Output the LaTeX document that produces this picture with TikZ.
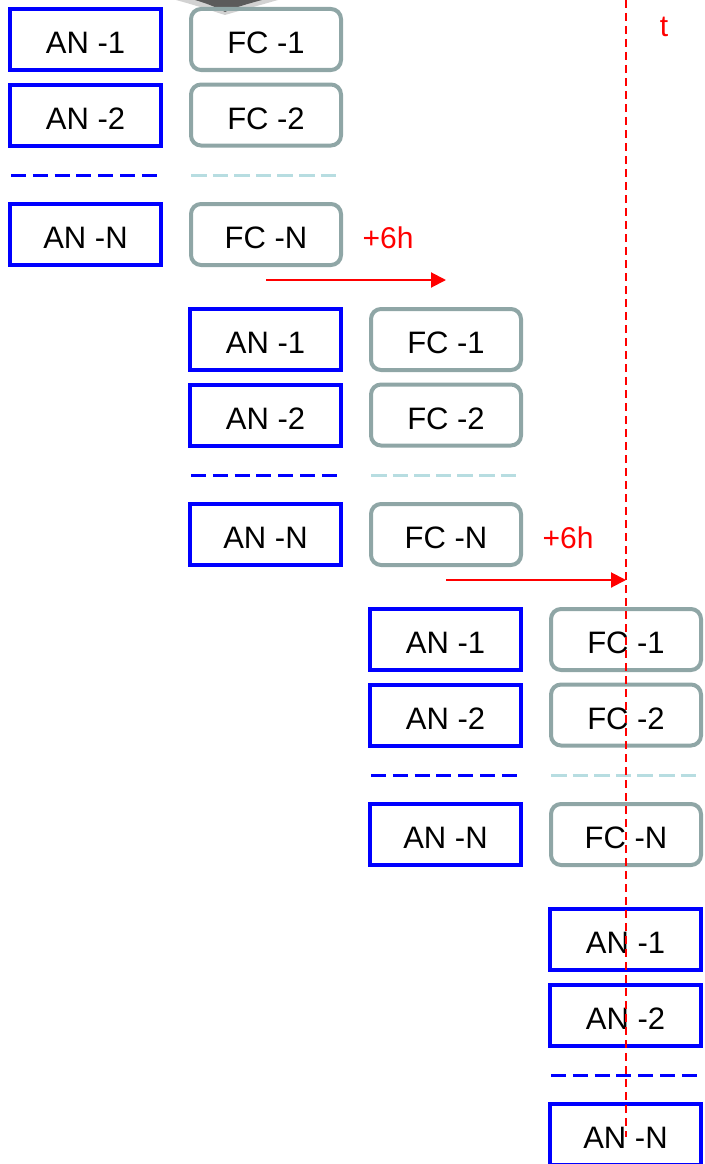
\documentclass[tikz,border=0pt]{standalone}
\usepackage{fontspec}
\setmainfont{Liberation Sans}
\usetikzlibrary{arrows.meta}
\definecolor{anblue}{RGB}{0,0,255}
\definecolor{fcgray}{RGB}{143,166,166}
\definecolor{fcdash}{RGB}{183,221,225}
\definecolor{tred}{RGB}{255,0,0}
\begin{document}
\begin{tikzpicture}[x=1pt,y=-1pt,
  lbl/.style={font=\fontsize{31}{37}\selectfont, text height=28pt, text depth=0pt, inner sep=0pt},
  anbox/.style={lbl, draw=anblue, line width=4pt, minimum width=151pt, minimum height=61pt},
  fcbox/.style={lbl, draw=fcgray, line width=4pt, rounded corners=10pt, minimum width=150pt, minimum height=61pt},
  andash/.style={draw=anblue, line width=3pt, dash pattern=on 15pt off 6.83pt},
  fcdashline/.style={draw=fcdash, line width=3pt, dash pattern=on 15.5pt off 6.1pt},
  shiftarrow/.style={draw=tred, line width=2pt, -{Triangle[length=15pt,width=15pt]}},
  redlabel/.style={text=tred, font=\fontsize{30}{36}\selectfont, inner sep=0pt},
  timeline/.style={draw=tred, line width=2pt, dash pattern=on 8pt off 5pt}]
\useasboundingbox (0,0) rectangle (704,1164);
% blurred blob at top edge
\fill[black!35, opacity=0.5] (176,0) .. controls (205,8) and (215,12) .. (225,15) .. controls (235,12) and (250,8) .. (278,0) -- cycle;
\fill[black!80, opacity=0.75] (195,0) .. controls (212,5) and (219,9) .. (225,12) .. controls (231,9) and (243,5) .. (262,0) -- cycle;
\foreach \k in {0,1,2,3} {
  \begin{scope}[shift={(180*\k,300*\k)}]
    \node[anbox] (an1-\k) at (85.5,39.5) {AN -1};
    \node[anbox] (an2-\k) at (85.5,115) {AN -2};
    \node[anbox] (anN-\k) at (85.5,234.5) {AN -N};
    \draw[andash] (11,175) -- (157,175);
    \ifnum\k<3
      \node[fcbox] (fc1-\k) at (266,39.5) {FC -1};
      \node[fcbox] (fc2-\k) at (266,115) {FC -2};
      \node[fcbox] (fcN-\k) at (266,234.5) {FC -N};
      \draw[fcdashline] (191,175) -- (337,175);
    \fi
    \ifnum\k<2
      \coordinate (arrS-\k) at (266,280);
      \coordinate (arrE-\k) at (446,280);
      \draw[shiftarrow] (arrS-\k) -- (arrE-\k);
      \node[redlabel] (plus-\k) at (388,238) {+6h};
    \fi
  \end{scope}
}
\coordinate (ttop) at (626,0);
\coordinate (tbot) at (626,1137);
\draw[timeline] (ttop) -- (tbot);
\node[redlabel] (tlabel) at (664,27) {t};
\end{tikzpicture}
\end{document}
